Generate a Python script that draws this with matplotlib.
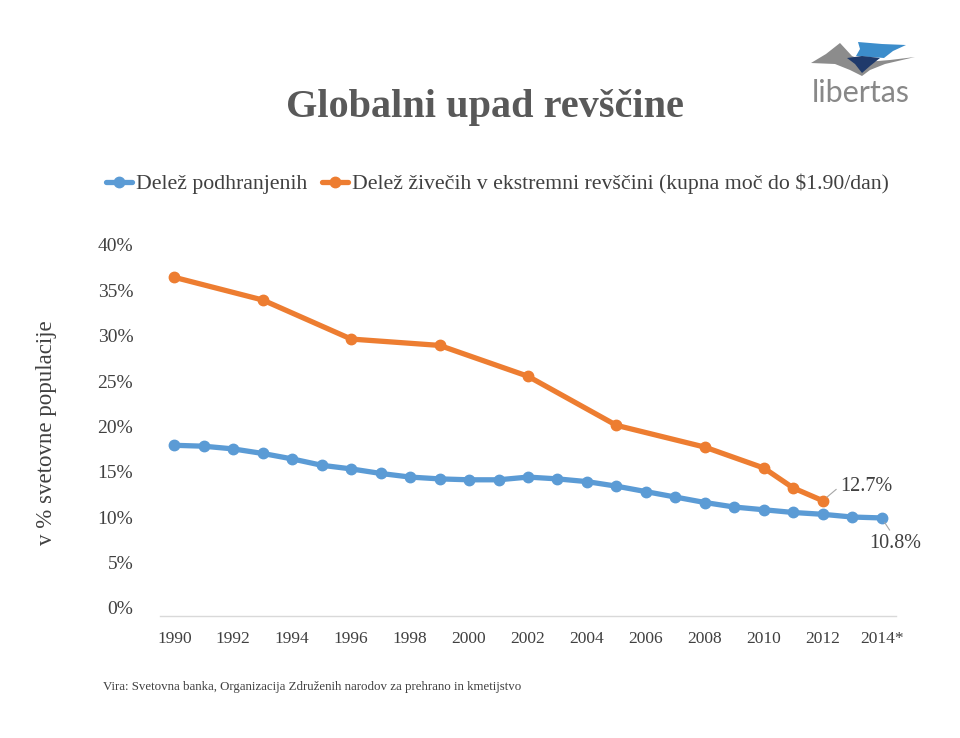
import matplotlib
matplotlib.use("Agg")
import matplotlib.pyplot as plt
from matplotlib.transforms import ScaledTranslation
from matplotlib.patches import Polygon
import numpy as np

# ---------------- data ----------------
years = list(range(1990, 2015))
year_labels = ["1990", "1992", "1994", "1996", "1998", "2000", "2002",
               "2004", "2006", "2008", "2010", "2012", "2014*"]
undernourished = [18.8, 18.7, 18.4, 17.9, 17.3, 16.6, 16.2, 15.7, 15.3, 15.1,
                  15.0, 15.0, 15.3, 15.1, 14.8, 14.3, 13.7, 13.1, 12.5, 12.0,
                  11.7, 11.4, 11.2, 10.9, 10.8]
poverty_years = [1990, 1993, 1996, 1999, 2002, 2005, 2008, 2010, 2011, 2012]
poverty = [37.3, 34.8, 30.5, 29.8, 26.4, 21.0, 18.6, 16.3, 14.1, 12.7]
y_ticks = [0, 5, 10, 15, 20, 25, 30, 35, 40]

series_names = ["Delež podhranjenih",
                "Delež živečih v ekstremni revščini (kupna moč do $1.90/dan)"]
title = "Globalni upad revščine"
ylabel = "v % svetovne populacije"
source = "Vira: Svetovna banka, Organizacija Združenih narodov za prehrano in kmetijstvo"

BLUE = "#5B9BD5"
ORANGE = "#ED7D31"
TXT = "#404040"
SERIF = ["Liberation Serif", "DejaVu Serif"]

plt.rcParams["font.family"] = SERIF

W, H = 960, 738
fig = plt.figure(figsize=(W / 100, H / 100), dpi=100)

# axes placement in pixels
x_left, x_right = 159.6, 896.4
y_bot, y_top = 616.0, 252.8
ax = fig.add_axes([x_left / W, 1 - y_bot / H, (x_right - x_left) / W, (y_bot - y_top) / H])

xi = np.arange(len(years))
px = [years.index(y) for y in poverty_years]

l1, = ax.plot(xi, undernourished, color=BLUE, lw=3.8, marker="o", ms=7.5,
              solid_capstyle="round", solid_joinstyle="round", zorder=3)
l2, = ax.plot(px, poverty, color=ORANGE, lw=3.8, marker="o", ms=7.5,
              solid_capstyle="round", solid_joinstyle="round", zorder=3)

ax.set_xlim(-0.5, len(years) - 0.5)
ax.set_ylim(0, 40)
ax.set_yticks(y_ticks)
ax.set_yticklabels([f"{v}%" for v in y_ticks])
ax.set_xticks(xi[::2])
ax.set_xticklabels(year_labels)

for s in ["top", "right", "left"]:
    ax.spines[s].set_visible(False)
ax.spines["bottom"].set_color("#D9D9D9")
ax.spines["bottom"].set_linewidth(1.0)
ax.tick_params(axis="both", length=0, colors=TXT)
ax.tick_params(axis="y", labelsize=14, pad=19)
ax.tick_params(axis="x", labelsize=12.5, pad=11)

off = ScaledTranslation(0, 8 / 100, fig.dpi_scale_trans)
for lab in ax.get_yticklabels():
    lab.set_transform(lab.get_transform() + off)

ax.set_ylabel(ylabel, fontsize=16.5, color=TXT)
ax.yaxis.set_label_coords(-0.139, 0.505)

# data labels
ax.annotate("12.7%", xy=(px[-1], poverty[-1]), xytext=(12.5, 10.5),
            textcoords="offset points", fontsize=14.5, color=TXT,
            ha="left", va="center",
            arrowprops=dict(arrowstyle="-", color="#A6A6A6", lw=0.8,
                            relpos=(0, 0.5), shrinkA=1, shrinkB=4))
ax.annotate("10.8%", xy=(xi[-1], undernourished[-1]), xytext=(9.5, -18.5),
            textcoords="offset points", fontsize=14.5, color=TXT,
            ha="center", va="center",
            arrowprops=dict(arrowstyle="-", color="#A6A6A6", lw=0.8,
                            relpos=(0.45, 1.0), shrinkA=1, shrinkB=4))

# title
fig.text(485 / W, 1 - 108 / H, title, fontsize=29, fontweight="bold",
         color="#595959", ha="center", va="center")

# legend
leg = fig.legend([l1, l2], series_names, loc="center left",
                 bbox_to_anchor=(106 / W, 1 - 184 / H), ncol=2, frameon=False,
                 fontsize=15.7, handlelength=1.2, handletextpad=0.18,
                 columnspacing=0.65, borderaxespad=0, borderpad=0)
for t in leg.get_texts():
    t.set_color(TXT)

# source
fig.text(103 / W, 1 - 687 / H, source, fontsize=9.3, color=TXT,
         ha="left", va="center")

# logo
def P(pts):
    return [(x / W, 1 - y / H) for x, y in pts]

fig.patches.append(Polygon(P([(811, 63), (826, 54), (840, 43), (852, 56), (866, 62),
                              (890, 60), (915, 57), (885, 64), (870, 70), (862, 76),
                              (850, 70), (835, 64)]),
                           closed=True, transform=fig.transFigure,
                           facecolor="#8C8C8C", edgecolor="none"))
fig.patches.append(Polygon(P([(858, 42), (882, 44), (906, 45), (893, 51), (884, 58),
                              (870, 57), (856, 56), (860, 49)]),
                           closed=True, transform=fig.transFigure,
                           facecolor="#3C8DCB", edgecolor="none"))
fig.patches.append(Polygon(P([(847, 58), (862, 56), (880, 58), (870, 66), (862, 73),
                              (855, 64)]),
                           closed=True, transform=fig.transFigure,
                           facecolor="#1F3A6B", edgecolor="none"))
fig.text(861 / W, 1 - 93 / H, "libertas", fontsize=22, color="#888888",
         family=["Lato", "DejaVu Sans"],
         ha="center", va="center")

fig.savefig("out.png", dpi=100, facecolor="white")
